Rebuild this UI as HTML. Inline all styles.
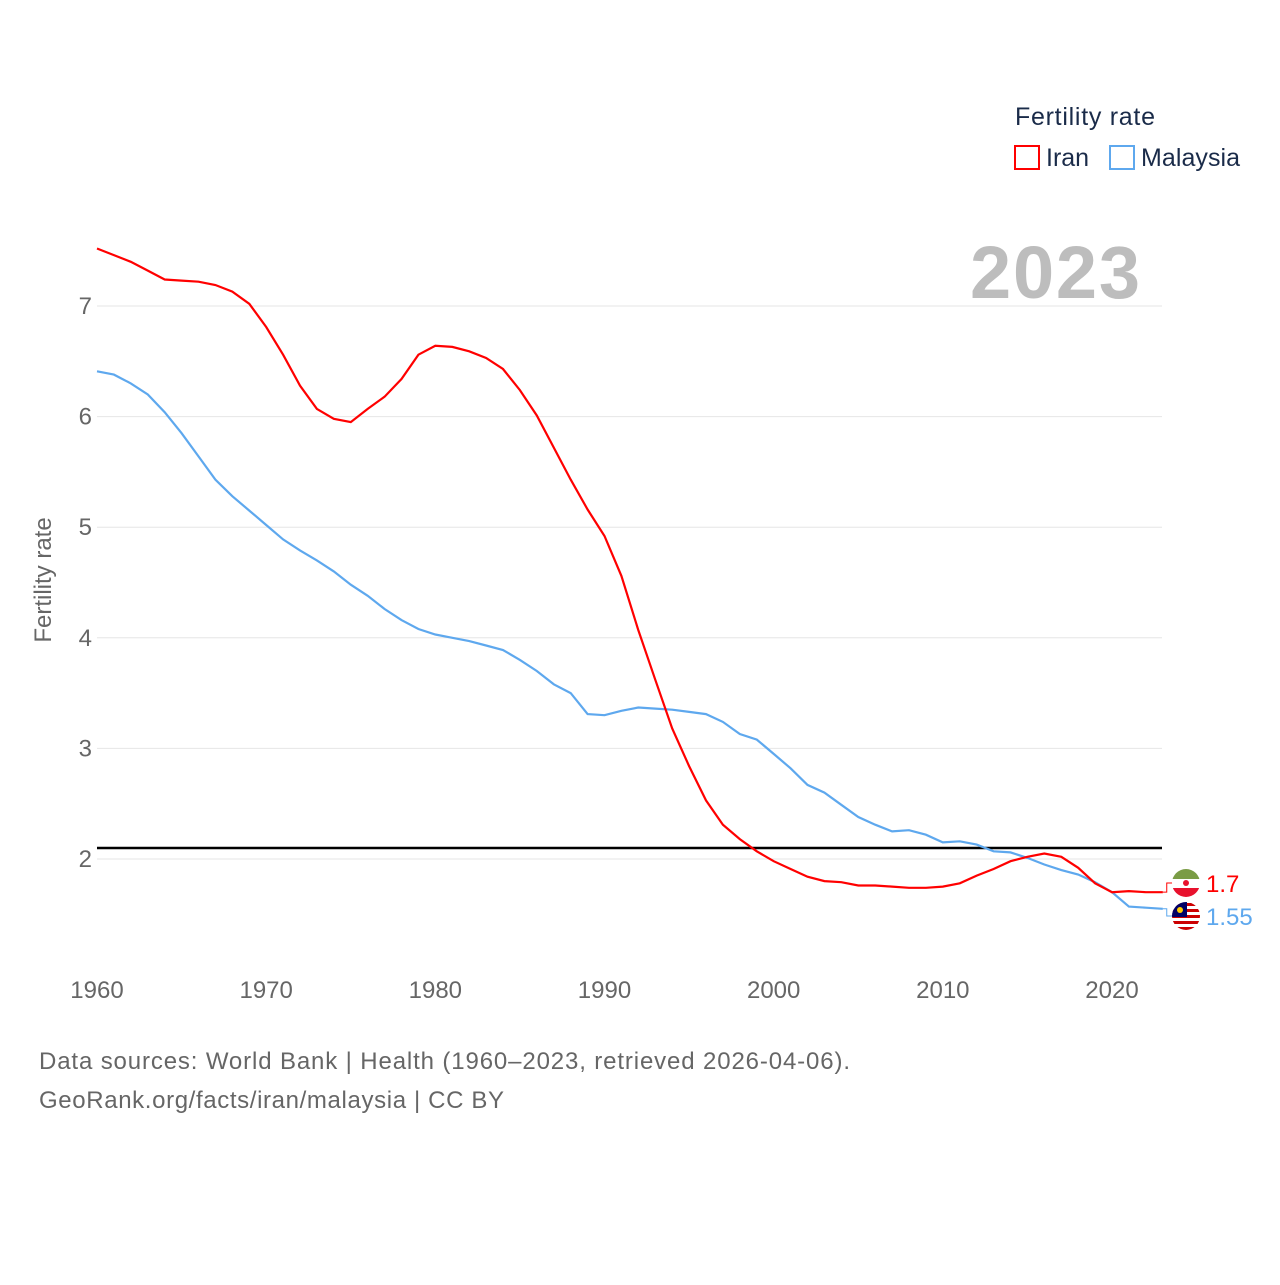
<!DOCTYPE html>
<html><head><meta charset="utf-8"><style>
body{margin:0;background:#fff;width:1280px;height:1280px;overflow:hidden;font-family:"Liberation Sans",sans-serif}
</style></head><body>
<svg id="chart" width="1280" height="1280" xmlns="http://www.w3.org/2000/svg" font-family="Liberation Sans, sans-serif">
<defs>
<clipPath id="c1"><circle cx="1186" cy="883" r="14"/></clipPath>
<clipPath id="c2"><circle cx="1186" cy="916" r="14"/></clipPath>
</defs>
<text x="1015" y="125" font-size="25" fill="#1a2b49" textLength="140">Fertility rate</text>
<g><rect x="1015" y="146" width="24" height="23" fill="none" stroke="#f00" stroke-width="2"/><text x="1046" y="166" font-size="25" fill="#1a2b49">Iran</text></g>
<g><rect x="1110" y="146" width="24" height="23" fill="none" stroke="#5ea8ee" stroke-width="2"/><text x="1141" y="166" font-size="25" fill="#1a2b49" textLength="99">Malaysia</text></g>
<text x="1140" y="298" font-size="74" font-weight="bold" fill="#bdbdbd" text-anchor="end" textLength="170">2023</text>
<text transform="translate(51,580) rotate(-90)" font-size="24" fill="#666" text-anchor="middle">Fertility rate</text>
<g id="grid"></g><g id="xt"></g><g id="yt"></g>
<g id="lines"></g>
<text x="39" y="1069" font-size="24" fill="#666" textLength="811">Data sources: World Bank | Health (1960–2023, retrieved 2026-04-06).</text>
<text x="39" y="1108" font-size="24" fill="#666" textLength="465">GeoRank.org/facts/iran/malaysia | CC BY</text>
</svg>
<script>
const years=[];for(let y=1960;y<=2023;y++)years.push(y);
const iran=[7.52,7.46,7.40,7.32,7.24,7.23,7.22,7.19,7.13,7.02,6.81,6.56,6.28,6.07,5.98,5.95,6.07,6.18,6.34,6.56,6.64,6.63,6.59,6.53,6.43,6.24,6.01,5.72,5.43,5.16,4.92,4.56,4.07,3.62,3.18,2.84,2.53,2.31,2.18,2.07,1.98,1.91,1.84,1.80,1.79,1.76,1.76,1.75,1.74,1.74,1.75,1.78,1.85,1.91,1.98,2.02,2.05,2.02,1.92,1.78,1.70,1.71,1.70,1.70];
const malaysia=[6.41,6.38,6.30,6.20,6.04,5.85,5.64,5.43,5.28,5.15,5.02,4.89,4.79,4.70,4.60,4.48,4.38,4.26,4.16,4.08,4.03,4.00,3.97,3.93,3.89,3.80,3.70,3.58,3.50,3.31,3.30,3.34,3.37,3.36,3.35,3.33,3.31,3.24,3.13,3.08,2.95,2.82,2.67,2.60,2.49,2.38,2.31,2.25,2.26,2.22,2.15,2.16,2.13,2.07,2.06,2.01,1.95,1.90,1.86,1.79,1.70,1.57,1.56,1.55];
const xTicks=[1960,1970,1980,1990,2000,2010,2020];
const yTicks=[2,3,4,5,6,7];
const refValue=2.1;
const X=y=>97+(y-1960)*(1015/60), Y=v=>859-(v-2)*110.6;
const NS="http://www.w3.org/2000/svg";
function mk(t,a,p){const e=document.createElementNS(NS,t);for(const k in a)e.setAttribute(k,a[k]);p.appendChild(e);return e;}
const grid=document.getElementById('grid'),xt=document.getElementById('xt'),yt=document.getElementById('yt'),L=document.getElementById('lines');
yTicks.forEach(v=>{const l=mk('line',{x1:97,x2:1162,y1:Y(v),y2:Y(v),stroke:'#e6e6e6','stroke-width':1},grid);


const t=mk('text',{x:92,y:Y(v)+8,'font-size':24,fill:'#666','text-anchor':'end'},yt);t.textContent=v;

});
xTicks.forEach(v=>{const t=mk('text',{x:X(v),y:998,'font-size':24,fill:'#666','text-anchor':'middle'},xt);t.textContent=v;

});
const ref=mk('line',{x1:97,x2:1162,y1:Y(refValue),y2:Y(refValue),stroke:'#000','stroke-width':2.5},L);


function series(d,c,name){const p=mk('path',{d:d.map((v,i)=>(i?'L':'M')+X(years[i]).toFixed(1)+','+Y(v).toFixed(1)).join(''),fill:'none',stroke:c,'stroke-width':2.2},L);

}
series(malaysia,'#5ea8ee','malaysia');series(iran,'#f00','iran');
function endLabel(d,c,name,ly,clip){const v=d[d.length-1],x=X(2023),y=Y(v);
mk('path',{d:`M${x},${y}H${x+4}V${ly}H${x+10}`,fill:'none',stroke:c,'stroke-width':1},L);
const g=mk('g',{'clip-path':`url(#${clip})`},L);


const cx=1186;
mk('rect',{x:cx-14,y:ly-14,width:28,height:28,fill:'#fff'},g);
if(name==='iran'){mk('rect',{x:cx-14,y:ly-14,width:28,height:10,fill:'#7a9c45'},g);mk('rect',{x:cx-14,y:ly+5,width:28,height:10,fill:'#e8112d'},g);mk('circle',{cx,cy:ly,r:3,fill:'#e8112d'},g);}
else{[-12,-6,0,6,12].forEach(o=>mk('rect',{x:cx-14,y:ly+o-1,width:28,height:3,fill:'#cc0001'},g));mk('rect',{x:cx-14,y:ly-14,width:15,height:15,fill:'#010066'},g);mk('circle',{cx:cx-6,cy:ly-6,r:3,fill:'#fc0'},g);}
const t=mk('text',{x:1206,y:ly+9,'font-size':24,fill:c},L);t.textContent=v;

}
endLabel(iran,'#f00','iran',883,'c1');endLabel(malaysia,'#5ea8ee','malaysia',916,'c2');
</script>
</body></html>
